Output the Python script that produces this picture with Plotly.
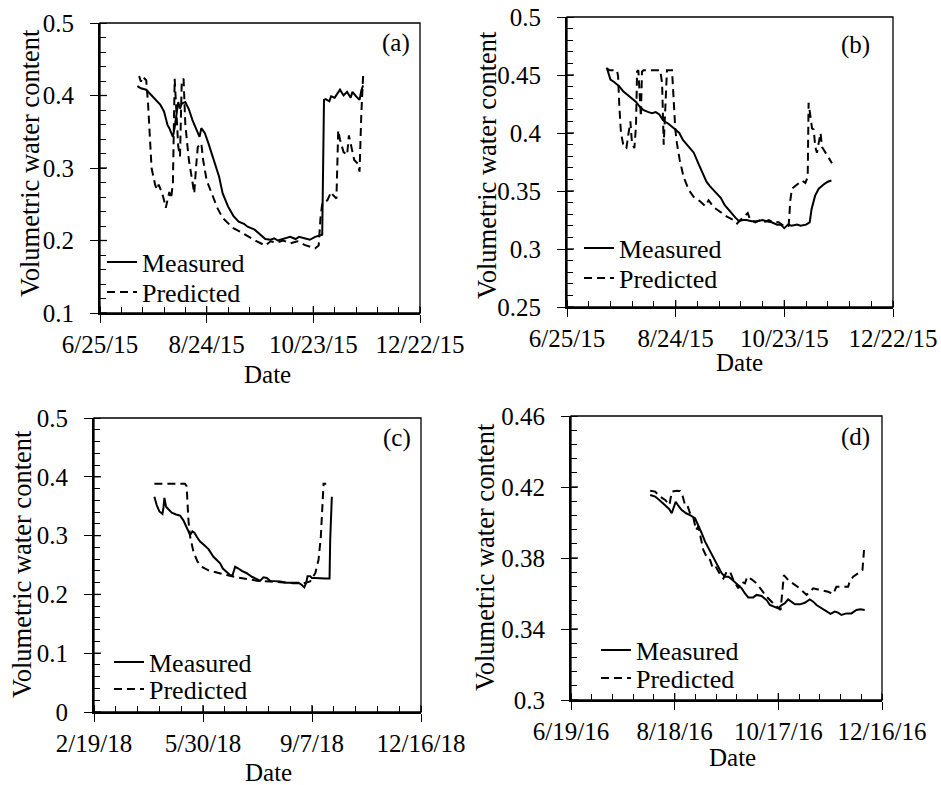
import plotly.graph_objects as go
from datetime import datetime, timedelta

W, H = 941, 785
FONT = "Liberation Serif, Times New Roman, serif"
DAY = 86400000

# ---------------- data (days after each panel's first axis date) ----------------
start_a = "2015-06-25"
ma_days = [21,23,26,30,34,36,38,39,41,42,43,44,45,46,48,50,52,55,56,57,59,61,64,67,69,72,75,78,81,83,
           87,90,93,96,98,100,103,107,110,112,115,118,121,124,125,126,127,129,130,132,135,137,139,141,142,144,146,147,148]
ma_vals = [0.413,0.41,0.408,0.398,0.387,0.378,0.359,0.355,0.343,0.356,0.375,0.391,0.382,0.389,0.391,0.381,0.366,0.348,0.343,0.355,
           0.348,0.334,0.311,0.288,0.265,0.247,0.234,0.226,0.223,0.219,0.215,0.208,0.202,0.201,0.203,0.2,0.202,0.205,0.202,0.205,
           0.203,0.201,0.205,0.207,0.208,0.394,0.395,0.392,0.399,0.397,0.408,0.4,0.405,0.397,0.405,0.399,0.394,0.407,0.414]
pa_days = [22,23,24,26,27,28,29,31,32,33,35,36,37,38,39,40,41,42,43,44,45,46,47,48,49,50,52,53,54,55,
           57,58,60,63,66,69,72,75,79,83,88,93,96,99,103,107,111,115,118,121,123,124,125,126,128,130,131,133,134,135,
           137,139,140,142,143,145,146,147,148]
pa_vals = [0.427,0.419,0.426,0.421,0.39,0.34,0.30,0.277,0.27,0.277,0.265,0.256,0.245,0.256,0.267,0.258,0.279,0.423,0.375,0.33,
           0.316,0.421,0.423,0.36,0.335,0.311,0.281,0.265,0.30,0.329,0.334,0.311,0.283,0.263,0.245,0.231,0.224,0.217,0.212,0.206,
           0.199,0.193,0.199,0.197,0.2,0.196,0.199,0.194,0.192,0.189,0.193,0.23,0.251,0.251,0.256,0.267,0.263,0.258,0.352,0.339,
           0.322,0.318,0.345,0.322,0.311,0.306,0.295,0.375,0.427]

start_b = "2015-06-25"
mb_days = [22,24,26,29,31,35,38,40,42,45,47,49,51,53,56,59,62,64,67,70,73,76,77,79,82,85,87,90,93,95,
           97,99,102,105,108,110,113,116,118,120,122,124,127,129,132,134,135,137,139,142,144,146]
mb_vals = [0.456,0.446,0.444,0.44,0.436,0.431,0.427,0.423,0.42,0.418,0.417,0.418,0.416,0.411,0.408,0.404,0.4,0.394,0.388,0.383,
           0.372,0.362,0.358,0.354,0.349,0.344,0.338,0.332,0.327,0.324,0.325,0.325,0.324,0.324,0.325,0.324,0.323,0.321,0.321,0.318,
           0.321,0.32,0.321,0.32,0.321,0.323,0.334,0.346,0.352,0.356,0.358,0.359]
pb_days = [21.7,23.5,27.6,28.2,28.9,29.8,31.3,32.8,34,35,35.9,37.2,38.1,38.7,39.4,40.1,40.8,41.4,42.3,51.5,
           52.5,53.4,54.3,55.2,58,58.9,59.8,60.7,62.2,64.4,67.2,69.9,73.6,76.4,78.2,81,84.7,88.3,92,93.9,
           95.7,97.5,99.8,101.2,103.9,106.8,108.7,111.4,114,116.9,120.6,122.4,123.3,124.2,126,128,129.8,131.6,132.9,133.4,
           134.4,135.3,136.2,137.1,138,139,140,140.8,142.6,144.5,146.3]
pb_vals = [0.456,0.454,0.454,0.449,0.423,0.4,0.388,0.387,0.4,0.41,0.391,0.387,0.406,0.453,0.454,0.429,0.414,0.453,0.454,0.454,
           0.443,0.39,0.429,0.454,0.454,0.429,0.403,0.391,0.377,0.362,0.351,0.345,0.341,0.337,0.342,0.336,0.332,0.328,0.325,0.322,
           0.325,0.328,0.331,0.325,0.323,0.325,0.323,0.325,0.323,0.323,0.319,0.32,0.342,0.352,0.354,0.357,0.359,0.357,0.362,0.426,
           0.414,0.404,0.403,0.388,0.383,0.391,0.4,0.388,0.383,0.378,0.374]

start_c = "2018-02-19"
mc_days = [55.4,57.5,60,62.8,63.7,64.6,66.1,68.3,71.3,75.3,79,82,84.5,86.6,88.2,90.3,92.1,94.3,97.3,101,
           105,109.6,112.6,115.7,118.2,121.2,124.9,127,129.5,132.5,135.6,140.2,144.8,149.4,152.4,155.5,158.6,161.6,166.2,170.8,
           176.9,183,187.6,190.7,192.9,194.7,195.9,198.3,199.9,203,207.5,212.1,216.1,216.7,218.2]
mc_vals = [0.366,0.352,0.341,0.337,0.347,0.364,0.349,0.344,0.339,0.336,0.334,0.326,0.315,0.307,0.301,0.307,0.305,0.298,0.29,0.284,
           0.277,0.264,0.259,0.253,0.244,0.239,0.233,0.232,0.247,0.244,0.24,0.236,0.23,0.226,0.223,0.229,0.228,0.223,0.223,0.222,
           0.22,0.22,0.22,0.216,0.212,0.22,0.231,0.231,0.228,0.228,0.227,0.227,0.227,0.293,0.366]
pc_days = [55.4,83.6,85,86.6,88.2,91.2,94.9,98.9,105,112.6,121.8,131,140.2,150.9,161.6,173.9,183,192.2,198.3,203,
           206,208.1,209.4,210.6,213]
pc_vals = [0.388,0.388,0.384,0.327,0.298,0.273,0.256,0.247,0.241,0.237,0.233,0.229,0.226,0.223,0.222,0.22,0.219,0.219,0.222,0.236,
           0.259,0.298,0.355,0.388,0.388]

start_d = "2016-06-19"
md_days = [45.8,48.7,51.6,54.5,56.8,58.3,59.7,60.6,62.2,64.1,66.6,68.9,71.8,73.7,75.7,77.6,80.1,82.4,85.3,87.2,
           89.1,91.1,93,95.9,98.8,100.7,102.6,105.5,107.4,110.3,113.2,115.1,117.4,119.9,121.9,123.8,125.7,127.3,129.6,132.5,
           135.3,138.2,140.2,142.1,145,147.9,150.2,152.7,154.6,156.5,159.4,162.3,165.2,167.5,170]
md_vals = [0.4155,0.4146,0.4123,0.4099,0.4076,0.4052,0.4099,0.4117,0.4093,0.407,0.4052,0.4042,0.4024,0.3986,0.3939,0.3892,0.3845,0.3798,0.3742,0.3714,
           0.3695,0.3695,0.368,0.3657,0.3629,0.36,0.3578,0.3578,0.3592,0.3586,0.3563,0.3535,0.3526,0.3516,0.3535,0.3545,0.3567,0.3554,0.3539,0.3539,
           0.3548,0.3567,0.3554,0.3535,0.3516,0.3498,0.3485,0.3498,0.3492,0.3479,0.3488,0.3488,0.3507,0.3511,0.3507]
pd_days = [45.8,48.7,51.6,54.5,57,58.3,61.2,63.2,64.7,66,67.3,68.9,70.9,72.4,73.7,75,76.6,78.9,80.5,81.8,
           83.3,85.9,88.2,90.1,92,94,96.8,98.8,100.7,102,104.5,107.4,110.3,113.2,117,119.9,121.3,122.4,123.2,125.7,
           128.6,131.5,134.4,136.3,138.2,140.2,143,145.9,148.8,151.7,153.6,155.6,158.4,160.4,161.3,163.3,166.2,167.5,168.7,169.6]
pd_vals = [0.4179,0.4174,0.4146,0.4127,0.4099,0.4174,0.4179,0.4177,0.4146,0.4099,0.4099,0.4052,0.4024,0.3958,0.3977,0.392,0.3845,0.3798,0.3789,0.3751,
           0.376,0.3714,0.3685,0.3723,0.3723,0.3676,0.3629,0.3667,0.3657,0.3695,0.368,0.3657,0.362,0.3582,0.3545,0.3516,0.3507,0.362,0.3704,0.3676,
           0.3657,0.3635,0.361,0.3592,0.361,0.3629,0.3623,0.3616,0.361,0.3597,0.3638,0.3638,0.3638,0.3638,0.3667,0.3695,0.3714,0.3723,0.3732,0.3845]

series_names = ["Measured", "Predicted"]
panel_labels = {"a": "(a)", "b": "(b)", "c": "(c)", "d": "(d)"}
x_tick_labels = {"a": ["6/25/15", "8/24/15", "10/23/15", "12/22/15"],
                 "b": ["6/25/15", "8/24/15", "10/23/15", "12/22/15"],
                 "c": ["2/19/18", "5/30/18", "9/7/18", "12/16/18"],
                 "d": ["6/19/16", "8/18/16", "10/17/16", "12/16/16"]}

# axis settings per panel
x_ranges = {"a": ("2015-06-25", "2015-12-22"), "b": ("2015-06-25", "2015-12-22"),
            "c": ("2018-02-19", "2018-12-16"), "d": ("2016-06-19", "2016-12-16")}
x_major_days = {"a": 60, "b": 60, "c": 100, "d": 60}
x_minor_days = {"a": 12, "b": 12, "c": 20, "d": 12}
y_ranges = {"a": (0.1, 0.5), "b": (0.25, 0.5), "c": (0.0, 0.5), "d": (0.3, 0.46)}
y_major = {"a": 0.1, "b": 0.05, "c": 0.1, "d": 0.04}
y_minor = {"a": 0.02, "b": 0.01, "c": 0.02, "d": 0.008}

# pixel boxes of each plot area (left, top, right, bottom)
boxes = {"a": (100, 23, 420, 313), "b": (567, 17, 893, 307),
         "c": (94, 418, 421, 712), "d": (571, 416, 882, 700)}


def to_dates(start, days):
    s = datetime.strptime(start, "%Y-%m-%d")
    return [(s + timedelta(days=d)).strftime("%Y-%m-%d %H:%M") for d in days]


def px(x):
    return x / W


def py(y):
    return 1 - y / H


series = {
    "a": (start_a, ma_days, ma_vals, pa_days, pa_vals),
    "b": (start_b, mb_days, mb_vals, pb_days, pb_vals),
    "c": (start_c, mc_days, mc_vals, pc_days, pc_vals),
    "d": (start_d, md_days, md_vals, pd_days, pd_vals),
}

fig = go.Figure()
keys = ["a", "b", "c", "d"]
legend_x = {"a": 102, "b": 579, "c": 109, "d": 596}
legend_rows = {"a": (262, 292), "b": (248, 278), "c": (662, 689), "d": (650, 678)}
ytitle_pos = {"a": (30, 163), "b": (487, 165), "c": (22, 564), "d": (485, 557)}
xtitle_pos = {"a": (267, 374), "b": (739, 362), "c": (268, 772), "d": (732, 757)}
label_pos = {"a": (412, 43), "b": (872, 45), "c": (413, 438), "d": (872, 437)}

tickfont = dict(family=FONT, size=25, color="black")
annotations = []
shapes = []
layout_axes = {}
legend_count = 0

for i, k in enumerate(keys):
    n = i + 1
    sfx = "" if n == 1 else str(n)
    xa, ya = "x" + sfx, "y" + sfx
    start, mdays, mvals, pdays, pvals = series[k]
    dash_styles = ["solid", "8px,5px"]
    for j, (days, vals) in enumerate([(mdays, mvals), (pdays, pvals)]):
        legend_count += 1
        lg = "legend" if legend_count == 1 else "legend" + str(legend_count)
        fig.add_trace(go.Scatter(x=to_dates(start, days), y=vals, mode="lines", name=series_names[j],
                                 line=dict(color="black", width=2, dash=dash_styles[j]),
                                 xaxis=xa, yaxis=ya, legend=lg))
        layout_axes[lg] = dict(x=px(legend_x[k]), y=py(legend_rows[k][j]), xanchor="left", yanchor="middle",
                               bgcolor="rgba(0,0,0,0)", font=dict(family=FONT, size=26, color="black"),
                               itemwidth=30, borderwidth=0)

    L, T, R, B = boxes[k]
    x0, x1 = x_ranges[k]
    major_dates = to_dates(x0, [x_major_days[k] * m for m in range(4)])
    layout_axes["xaxis" + sfx] = dict(
        type="date", domain=[px(L), px(R)], anchor=ya, range=[x0, x1 + " 00:01"],
        tickmode="array", tickvals=major_dates, ticktext=x_tick_labels[k],
        ticks="outside", ticklen=8, tickwidth=1.3, tickcolor="black",
        showline=True, linecolor="black", linewidth=2, showgrid=False, zeroline=False,
        automargin=False, tickfont=tickfont, ticklabelstandoff=0,
        minor=dict(dtick=x_minor_days[k] * DAY, tick0=x0, ticks="inside", ticklen=6,
                   tickwidth=1.3, tickcolor="black", showgrid=False),
    )
    y0, y1 = y_ranges[k]
    layout_axes["yaxis" + sfx] = dict(
        domain=[py(B), py(T)], anchor=xa, range=[y0, y1 + 1e-9], tick0=y0, dtick=y_major[k],
        ticks="outside", ticklen=8, tickwidth=1.3, tickcolor="black",
        showline=True, linecolor="black", linewidth=2, showgrid=False, zeroline=False,
        automargin=False, tickfont=tickfont, ticklabelstandoff=11,
        minor=dict(dtick=y_minor[k], tick0=y0, ticks="inside", ticklen=6,
                   tickwidth=1.3, tickcolor="black", showgrid=False),
    )

    # inner half of the crossing major ticks
    for d in major_dates:
        shapes.append(dict(type="line", xref=xa, yref=ya + " domain", x0=d, x1=d,
                           ysizemode="pixel", yanchor=0, y0=0, y1=7,
                           line=dict(color="black", width=1.3), layer="above"))
    nmaj = int(round((y1 - y0) / y_major[k]))
    for m in range(nmaj + 1):
        v = y0 + m * y_major[k]
        shapes.append(dict(type="line", xref=xa + " domain", yref=ya, y0=v, y1=v,
                           xsizemode="pixel", xanchor=0, x0=0, x1=7,
                           line=dict(color="black", width=1.3), layer="above"))

    # thin frame (top/right)
    shapes.append(dict(type="rect", xref=xa + " domain", yref=ya + " domain", x0=0, x1=1, y0=0, y1=1,
                       line=dict(color="black", width=1.3), layer="above"))

    tx, ty = ytitle_pos[k]
    annotations.append(dict(text="Volumetric water content", x=px(tx), y=py(ty), xref="paper", yref="paper",
                            textangle=-90, showarrow=False, xanchor="center", yanchor="middle",
                            font=dict(family=FONT, size=26.5, color="black")))
    tx, ty = xtitle_pos[k]
    annotations.append(dict(text="Date", x=px(tx), y=py(ty), xref="paper", yref="paper",
                            showarrow=False, xanchor="center", yanchor="middle",
                            font=dict(family=FONT, size=25, color="black")))
    tx, ty = label_pos[k]
    annotations.append(dict(text=panel_labels[k], x=px(tx), y=py(ty), xref="paper", yref="paper",
                            showarrow=False, xanchor="right", yanchor="middle",
                            font=dict(family=FONT, size=25, color="black")))

fig.update_layout(template="none", width=W, height=H, margin=dict(l=0, r=0, t=0, b=0, autoexpand=False),
                  paper_bgcolor="white", plot_bgcolor="white", showlegend=True,
                  annotations=annotations, shapes=shapes, **layout_axes)

fig.write_html("out.html")
